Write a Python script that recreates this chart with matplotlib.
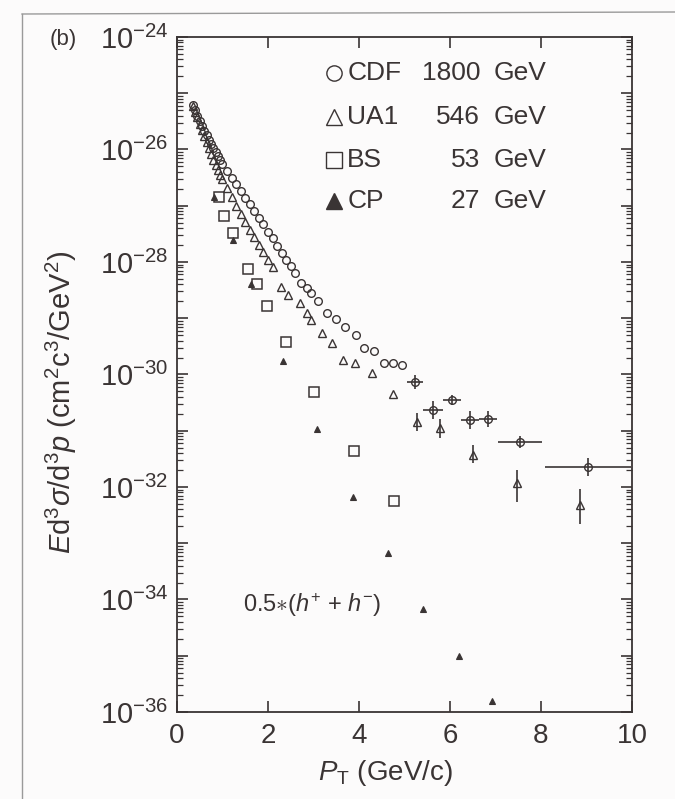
import matplotlib
matplotlib.use("Agg")
import matplotlib.pyplot as plt
import numpy as np
from matplotlib.ticker import FuncFormatter, NullFormatter, FixedLocator

plt.rcParams['font.family'] = ['Liberation Sans', 'DejaVu Sans']
plt.rcParams['mathtext.fontset'] = 'custom'
plt.rcParams['mathtext.rm'] = 'Liberation Sans'
plt.rcParams['mathtext.it'] = 'Liberation Sans:italic'
plt.rcParams['mathtext.bf'] = 'Liberation Sans:bold'

# CDF 1800 GeV, dense part (pT, log10 of cross section)
cdf_pt = [0.35, 0.40, 0.45, 0.50, 0.55, 0.60, 0.65, 0.70, 0.75, 0.80, 0.85, 0.90,
          0.95, 1.00, 1.10, 1.20, 1.30, 1.40, 1.50, 1.60, 1.70, 1.80, 1.90, 2.00,
          2.10, 2.20, 2.30, 2.40, 2.50, 2.60, 2.72, 2.85, 2.95, 3.10, 3.30, 3.50,
          3.70, 3.93, 4.10, 4.33, 4.55, 4.75, 4.95]
cdf_log = [-25.21, -25.30, -25.40, -25.49, -25.58, -25.67, -25.75, -25.83, -25.91,
           -25.98, -26.05, -26.12, -26.19, -26.25, -26.38, -26.50, -26.62, -26.74,
           -26.86, -26.97, -27.09, -27.21, -27.33, -27.46, -27.58, -27.71, -27.84,
           -27.96, -28.08, -28.20, -28.37, -28.47, -28.55, -28.69, -28.90, -29.01,
           -29.16, -29.30, -29.53, -29.58, -29.80, -29.80, -29.83]

# CDF points with error bars
cdf_eb_pt = [5.23, 5.63, 6.04, 6.44, 6.84, 7.54, 9.03]
cdf_eb_log = [-30.13, -30.63, -30.45, -30.81, -30.79, -31.20, -31.64]
cdf_eb_xerr = [0.18, 0.22, 0.20, 0.20, 0.20, 0.48, 0.95]
cdf_eb_yerr = [0.12, 0.16, 0.09, 0.16, 0.14, 0.11, 0.16]

# UA1 546 GeV
ua1_pt = [0.35, 0.40, 0.45, 0.50, 0.55, 0.60, 0.65, 0.70, 0.75, 0.80, 0.85, 0.90,
          0.95, 1.00, 1.10, 1.20, 1.30, 1.40, 1.50, 1.60, 1.70, 1.80, 1.90, 2.00,
          2.10, 2.29, 2.44, 2.70, 2.86, 2.95, 3.19, 3.41, 3.65, 3.91, 4.29, 4.75]
ua1_log = [-25.23, -25.33, -25.43, -25.54, -25.65, -25.76, -25.87, -25.98, -26.08,
           -26.18, -26.27, -26.36, -26.45, -26.53, -26.69, -26.85, -27.00, -27.15,
           -27.29, -27.43, -27.56, -27.69, -27.83, -27.96, -28.09, -28.44, -28.59,
           -28.73, -28.90, -29.03, -29.26, -29.44, -29.74, -29.80, -29.97, -30.35]

# UA1 points with error bars (asymmetric, in decades)
ua1_eb_pt = [5.27, 5.78, 6.50, 7.47, 8.86]
ua1_eb_log = [-30.84, -30.95, -31.43, -31.93, -32.32]
ua1_eb_up = [0.15, 0.15, 0.18, 0.24, 0.28]
ua1_eb_dn = [0.17, 0.18, 0.15, 0.33, 0.33]

# BS 53 GeV
bs_pt = [0.92, 1.03, 1.23, 1.56, 1.76, 1.98, 2.40, 3.01, 3.89, 4.77]
bs_log = [-26.84, -27.18, -27.48, -28.12, -28.39, -28.78, -29.42, -30.31, -31.36, -32.25]

# CP 27 GeV
cp_pt = [0.81, 1.23, 1.63, 2.33, 3.08, 3.87, 4.64, 5.41, 6.20, 6.92]
cp_log = [-26.84, -27.61, -28.39, -29.76, -30.97, -32.18, -33.17, -34.17, -35.00, -35.80]

legend_names = ['CDF', 'UA1', 'BS', 'CP']
legend_energy = ['1800', '546', '53', '27']

col = '#3a3434'

fig = plt.figure(figsize=(6.75, 7.99), dpi=100)
fig.patch.set_facecolor('#fcfbfb')
ax = fig.add_axes([0.2622, 0.1089, 0.6741, 0.8448])
ax.set_facecolor('#fcfbfb')

# page border of the scan
fig.add_artist(plt.Line2D([22 / 675, 22 / 675], [0, 1 - 14 / 799], color='#9a9a9a', lw=1))
fig.add_artist(plt.Line2D([22 / 675, 1], [1 - 14 / 799, 1 - 12 / 799], color='#9a9a9a', lw=1))

p = lambda v: 10.0 ** np.asarray(v)

ax.plot(cdf_pt, p(cdf_log), 'o', ms=5.5, mfc='none', mec=col, mew=1.0)
ax.plot(ua1_pt, p(ua1_log), '^', ms=6, mfc='none', mec=col, mew=1.0)
ax.plot(bs_pt, p(bs_log), 's', ms=7.5, mfc='none', mec=col, mew=1.1)
ax.plot(cp_pt, p(cp_log), '^', ms=5, mfc=col, mec=col, mew=0.8)

cy = np.asarray(cdf_eb_log)
ce = np.asarray(cdf_eb_yerr)
ax.errorbar(cdf_eb_pt, p(cy), xerr=cdf_eb_xerr,
            yerr=[p(cy) - p(cy - ce), p(cy + ce) - p(cy)],
            fmt='o', ms=5.5, mfc='none', mec=col, mew=1.0, ecolor=col, elinewidth=1.2, capsize=0)

uy = np.asarray(ua1_eb_log)
ax.errorbar(ua1_eb_pt, p(uy),
            yerr=[p(uy) - p(uy - np.asarray(ua1_eb_dn)), p(uy + np.asarray(ua1_eb_up)) - p(uy)],
            fmt='^', ms=6, mfc='none', mec=col, mew=1.0, ecolor=col, elinewidth=1.2, capsize=0)

ax.set_yscale('log')
ax.set_xlim(0, 10)
ax.set_ylim(1e-36, 1e-24)

decades = list(range(-36, -23))
ax.yaxis.set_major_locator(FixedLocator([10.0 ** e for e in decades]))
ax.yaxis.set_minor_locator(FixedLocator([m * 10.0 ** e for e in decades[:-1] for m in range(2, 10)]))
ax.yaxis.set_minor_formatter(NullFormatter())


def ylab(v, pos):
    e = int(round(np.log10(v)))
    return r'$10^{%d}$' % e if e % 2 == 0 else ''


ax.yaxis.set_major_formatter(FuncFormatter(ylab))
ax.set_xticks([0, 2, 4, 6, 8, 10])
ax.tick_params(axis='both', which='major', direction='in', length=8, width=1.2,
               top=True, right=True, colors=col)
ax.tick_params(axis='y', which='major', labelsize=21, pad=6)
ax.tick_params(axis='x', which='major', labelsize=20, pad=8)
ax.tick_params(axis='y', which='minor', direction='in', length=4, width=0.9,
               right=True, colors=col)
for s in ax.spines.values():
    s.set_linewidth(1.3)
    s.set_color(col)

ax.set_xlabel(r'$P_{\mathrm{T}}$ (GeV/c)', fontsize=20, color=col)
ax.xaxis.set_label_coords(0.457, -0.068)
ax.set_ylabel(r'$E$d$^3\sigma$/d$^3p$ (cm$^2$c$^3$/GeV$^2$)', fontsize=21, color=col)
ax.yaxis.set_label_coords(-0.215, 0.459)

# legend drawn by hand
rows_y = [0.947, 0.881, 0.818, 0.757]
styles = [dict(marker='o', ms=11, mfc='none'), dict(marker='^', ms=12, mfc='none'),
          dict(marker='s', ms=12, mfc='none'), dict(marker='^', ms=12, mfc=col)]
for yy, nm, en, st in zip(rows_y, legend_names, legend_energy, styles):
    ax.plot([0.345], [yy], transform=ax.transAxes, ls='none', mec=col, mew=1.0, **st)
    ax.text(0.374, yy, nm, transform=ax.transAxes, fontsize=19, color=col, va='center', ha='left')
    ax.text(0.666, yy, en, transform=ax.transAxes, fontsize=19, color=col, va='center', ha='right')
    ax.text(0.695, yy, 'GeV', transform=ax.transAxes, fontsize=19, color=col, va='center', ha='left')

ax.text(1.45, 10 ** -34.1, r'0.5$\ast$($h^{+}$ + $h^{-}$)', fontsize=17, color=col, va='center')
fig.text(50 / 675, 1 - 40 / 799, '(b)', fontsize=16, color=col, va='center')

fig.savefig('out.png', dpi=100, facecolor=fig.get_facecolor())
